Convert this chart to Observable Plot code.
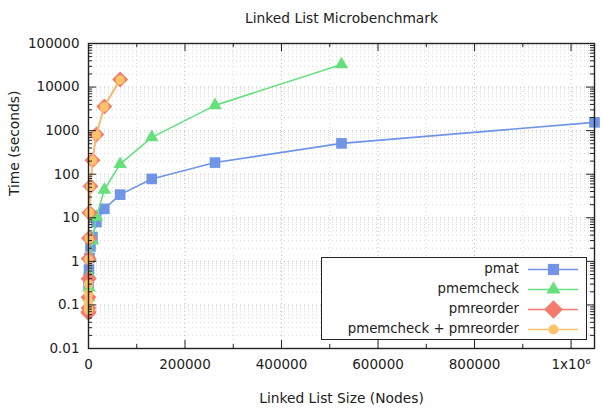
<!DOCTYPE html>
<html>
<head>
<meta charset="utf-8">
<script src="https://cdn.jsdelivr.net/npm/d3@7"></script>
<script src="https://cdn.jsdelivr.net/npm/@observablehq/plot@0.6"></script>
<style>
  body { margin: 0; background: white; }
  #wrap { position: relative; width: 602px; height: 412px; font-family: "DejaVu Sans", sans-serif; }
  #legend { position: absolute; left: 321px; top: 257px; width: 264px; height: 81px;
            border: 1.5px solid #222; background: white; box-sizing: content-box; }
  .row { position: absolute; left: 0; width: 264px; height: 20px; font-size: 13.3px; color: #222; }
  .row span { position: absolute; right: 67px; top: 2px; white-space: nowrap; }
  .row svg { position: absolute; right: 8px; top: 0; }
</style>
</head>
<body>
<div id="wrap"></div>
<script>
// ---- data ----
const title = "Linked List Microbenchmark";
const xLabel = "Linked List Size (Nodes)";
const yLabel = "Time (seconds)";

const pmatX = [256, 512, 1024, 2048, 4096, 8192, 16384, 32768, 65536, 131072, 262144, 524288, 1048576];
const pmatY = [0.3, 0.4, 0.65, 1.2, 2.2, 3.6, 8, 16, 34, 78, 185, 510, 1550];

const pmemcheckX = [256, 512, 1024, 2048, 4096, 8192, 16384, 32768, 65536, 131072, 262144, 524288];
const pmemcheckY = [0.1, 0.15, 0.25, 0.5, 1.2, 3, 10.5, 44, 170, 700, 3800, 33000];

const pmreorderX = [16, 32, 64, 128, 256, 512, 1024, 2048, 4096, 8192, 16384, 32768, 65536];
const pmreorderY = [0.065, 0.07, 0.085, 0.15, 0.4, 1.15, 3.4, 13, 53, 210, 820, 3600, 15000];

const comboX = [16, 32, 64, 128, 256, 512, 1024, 2048, 4096, 8192, 16384, 32768, 65536];
const comboY = [0.075, 0.09, 0.12, 0.18, 0.3, 1.1, 3.3, 13, 52, 205, 800, 3500, 14500];

const seriesNames = ["pmat", "pmemcheck", "pmreorder", "pmemcheck + pmreorder"];
const seriesColors = ["#7094e6", "#66e07c", "#f57a6b", "#fcc36a"];
const seriesSymbols = ["square", "triangle", "diamond2", "circle"];
const seriesR = [6.0, 5.0, 7.2, 4.7];

const xTicks = [0, 200000, 400000, 600000, 800000, 1000000];
const xMinor = [100000, 300000, 500000, 700000, 900000];
const yTicks = [0.01, 0.1, 1, 10, 100, 1000, 10000, 100000];
const yTickLabels = ["0.01", "0.1", "1", "10", "100", "1000", "10000", "100000"];

// ---- build ----
const xs = [pmatX, pmemcheckX, pmreorderX, comboX];
const ys = [pmatY, pmemcheckY, pmreorderY, comboY];
const series = seriesNames.map((name, i) => xs[i].map((x, j) => ({name, x, y: ys[i][j]})));

const yMinor = [];
for (let k = 0; k < yTicks.length - 1; k++)
  for (let m = 2; m <= 9; m++) yMinor.push(yTicks[k] * m);

const W = 602, H = 412, mL = 88, mR = 8, mT = 43, mB = 64;
const pw = W - mL - mR, ph = H - mT - mB;

const marks = [
  Plot.ruleY(yMinor, {y: d => d, stroke: "#d8d8d8", strokeDasharray: "1,3"}),
  Plot.ruleY(yTicks, {y: d => d, stroke: "#bdbdbd", strokeDasharray: "1,3"}),
  Plot.ruleX(xMinor, {x: d => d, stroke: "#d8d8d8", strokeDasharray: "1,3"}),
  Plot.ruleX(xTicks, {x: d => d, stroke: "#bdbdbd", strokeDasharray: "1,3"}),
];
series.forEach((s, i) => {
  marks.push(Plot.line(s, {x: "x", y: "y", stroke: seriesColors[i], strokeWidth: 1.6}));
  marks.push(Plot.dot(s, {x: "x", y: "y", fill: seriesColors[i], symbol: seriesSymbols[i], r: seriesR[i], stroke: "none"}));
});
marks.push(
  // inward ticks
  Plot.tickY(yTicks, {y: d => d, insetRight: pw - 8, stroke: "#222"}),
  Plot.tickY(yTicks, {y: d => d, insetLeft: pw - 8, stroke: "#222"}),
  Plot.tickY(yMinor, {y: d => d, insetRight: pw - 4, stroke: "#222"}),
  Plot.tickY(yMinor, {y: d => d, insetLeft: pw - 4, stroke: "#222"}),
  Plot.tickX(xTicks, {x: d => d, insetTop: ph - 8, stroke: "#222"}),
  Plot.tickX(xTicks, {x: d => d, insetBottom: ph - 8, stroke: "#222"}),
  Plot.tickX(xMinor, {x: d => d, insetTop: ph - 4, stroke: "#222"}),
  Plot.tickX(xMinor, {x: d => d, insetBottom: ph - 4, stroke: "#222"}),
  Plot.frame({stroke: "#222", strokeWidth: 1.4}),
  Plot.axisY(yTicks, {tickSize: 0, tickPadding: 9, label: null,
    tickFormat: d => yTickLabels[yTicks.indexOf(d)], fontSize: 13.5, fill: "#222"}),
  Plot.axisX(xTicks, {tickSize: 0, tickPadding: 11, label: null,
    tickFormat: d => d === 1000000 ? "1x10\u2076" : String(d), fontSize: 13.5, fill: "#222"}),
  Plot.text([title], {frameAnchor: "top", dy: -30, text: d => d, fontSize: 13.8, fill: "#222"}),
  Plot.text([xLabel], {frameAnchor: "bottom", dy: 54, text: d => d, fontSize: 13.8, fill: "#222"}),
  Plot.text([yLabel], {frameAnchor: "left", dx: -74, rotate: -90, text: d => d, fontSize: 13.8, fill: "#222"})
);

const chart = Plot.plot({
  width: W, height: H,
  marginLeft: mL, marginRight: mR, marginTop: mT, marginBottom: mB,
  x: {type: "linear", domain: [0, 1048576]},
  y: {type: "log", domain: [0.01, 100000]},
  style: {fontFamily: "DejaVu Sans, sans-serif", fontSize: "13.5px", background: "white", color: "#222"},
  marks
});
const wrap = document.getElementById("wrap");
wrap.appendChild(chart);

// legend
const legend = document.createElement("div");
legend.id = "legend";
seriesNames.forEach((name, i) => {
  const row = document.createElement("div");
  row.className = "row";
  row.style.top = (1 + i * 20) + "px";
  const span = document.createElement("span");
  span.textContent = name;
  row.appendChild(span);
  const svg = Plot.plot({
    width: 50, height: 20, margin: 0,
    x: {domain: [0, 1]}, y: {domain: [0, 1]}, axis: null,
    style: {background: "transparent"},
    marks: [
      Plot.ruleY([0.5], {stroke: seriesColors[i], strokeWidth: 1.6}),
      Plot.dot([{x: 0.5, y: 0.5}], {x: "x", y: "y", fill: seriesColors[i], symbol: seriesSymbols[i], r: seriesR[i] + (i === 2 ? 1.2 : 0.3), stroke: "none"})
    ]
  });
  row.appendChild(svg);
  legend.appendChild(row);
});
wrap.appendChild(legend);
</script>
</body>
</html>
